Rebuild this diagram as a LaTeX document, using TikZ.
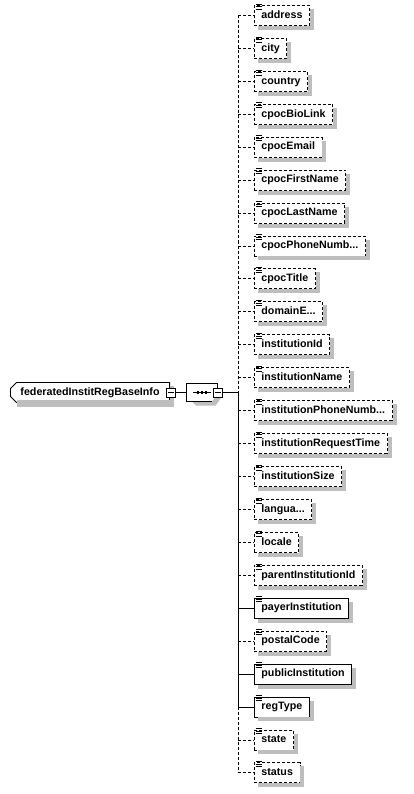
\documentclass[tikz,border=0pt]{standalone}
\usepackage{fontspec}
\setmainfont{Liberation Sans}
\usetikzlibrary{positioning,shapes.misc}

\newcommand{\trdots}{...}
\definecolor{shadowgray}{RGB}{190,190,190}
% L-shaped shadow at the right and bottom of a node
\newcommand{\boxshadow}[1]{%
  \fill[shadowgray] ([yshift=-4pt]#1.north east) rectangle ([shift={(4pt,-4pt)}]#1.south east);
  \fill[shadowgray] ([xshift=4pt]#1.south west) rectangle ([shift={(4pt,-4pt)}]#1.south east);}
\tikzset{
  elbox/.style={draw, fill=white, line width=0.9pt, anchor=west,
    font=\bfseries\fontsize{10.7}{12}\selectfont,
    minimum height=20pt, inner xsep=7pt, inner ysep=0pt,
    text height=8pt, text depth=2.5pt},
  opt/.style={elbox, dash pattern=on 3pt off 2pt},
  req/.style={elbox},
  optlink/.style={line width=0.9pt, dash pattern=on 3pt off 2pt},
  reqlink/.style={line width=0.9pt},
  togbox/.style={draw, fill=white, line width=0.9pt, minimum size=9pt, inner sep=0pt},
}

\begin{document}
\begin{tikzpicture}[x=1pt,y=-1pt]
\fill[white] (0,0) rectangle (413,794);
\useasboundingbox (0,0) rectangle (413,794);

% root element
\node[elbox, chamfered rectangle, chamfered rectangle corners={north west,south west},
  chamfered rectangle xsep=3pt, chamfered rectangle ysep=3pt]
  (rootEl) at (10,392.5) {federatedInstitRegBaseInfo};
\boxshadow{rootEl}
\node[togbox] (rootTog) at ([xshift=1pt]rootEl.east) {};
\draw[line width=0.9pt] ([xshift=2pt]rootTog.west) -- ([xshift=-2pt]rootTog.east);

% sequence compositor
\node[draw, fill=white, line width=0.9pt, chamfered rectangle,
  chamfered rectangle xsep=6pt, chamfered rectangle ysep=6pt,
  minimum width=31pt, minimum height=18pt, inner sep=0pt]
  (seqEl) at (202,392.5) {};
\fill[shadowgray] ([shift={(6pt,-0.5pt)}]seqEl.south west) -- ([shift={(-6pt,-0.5pt)}]seqEl.south east)
  -- ([xshift=0.5pt]seqEl.east) -- ([shift={(4pt,-4pt)}]seqEl.east)
  -- ([shift={(-2pt,-4pt)}]seqEl.south east) -- ([shift={(10pt,-4pt)}]seqEl.south west) -- cycle;
\draw[line width=0.9pt] ([xshift=-9pt]seqEl.center) -- ([xshift=9pt]seqEl.center);
\foreach \dx in {-4,0,4}
  \fill ([xshift=\dx pt-1.3pt,yshift=-1.3pt]seqEl.center) rectangle ++(2.6,-2.6);
\node[togbox] (seqTog) at (seqEl.east) {};
\draw[line width=0.9pt] ([xshift=2pt]seqTog.west) -- ([xshift=-2pt]seqTog.east);

\coordinate (hub) at (238,392.5);
\draw[reqlink] (rootTog) -- (seqEl);
\draw[reqlink] (seqTog) -- (hub);

% child elements
\foreach \name/\kind/\lnk [count=\i from 0] in {
    address/opt/optlink, city/opt/optlink, country/opt/optlink,
    cpocBioLink/opt/optlink, cpocEmail/opt/optlink, cpocFirstName/opt/optlink,
    cpocLastName/opt/optlink, cpocPhoneNumb\trdots/opt/optlink, cpocTitle/opt/optlink,
    domainE\trdots/opt/optlink, institutionId/opt/optlink, institutionName/opt/optlink,
    institutionPhoneNumb\trdots/opt/optlink, institutionRequestTime/opt/optlink,
    institutionSize/opt/optlink, langua\trdots/opt/optlink, locale/opt/optlink,
    parentInstitutionId/opt/optlink, payerInstitution/req/reqlink,
    postalCode/opt/optlink, publicInstitution/req/reqlink, regType/req/reqlink,
    state/opt/optlink, status/opt/optlink} {
  \coordinate (b\i) at (238,{15.5+32.93*\i});
  \node[\kind] (e\i) at (254,{15.5+32.93*\i}) {\name};
  \boxshadow{e\i}
  \draw[\lnk] (b\i) -- (e\i.west);
  % element icon
  \foreach \dy in {1,-1.5,-4}
    \draw[line width=0.7pt] ([xshift=1.5pt,yshift=\dy pt]e\i.north west) -- ++(6,0);
}

% spine
\draw[optlink] (b0) -- (hub);
\draw[reqlink] (hub) -- (b21);
\draw[optlink] (b21) -- (b23);
\end{tikzpicture}
\end{document}
